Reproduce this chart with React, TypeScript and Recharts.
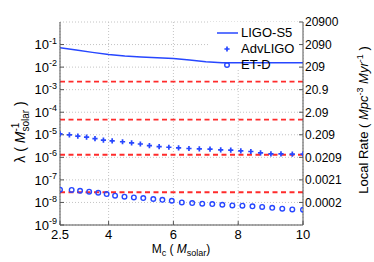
import React from 'react';
import {
  ComposedChart,
  Line,
  Scatter,
  XAxis,
  YAxis,
  CartesianGrid,
  ReferenceLine,
  ReferenceArea,
  Legend,
} from 'recharts';

const FONT = '"Liberation Sans", Arial, Helvetica, sans-serif';
const BLUE = '#2747ff';
const RED = '#ff2b2b';
const AXIS = '#555555';

// ---- data ----
const titleText = 'BHNS, Hopkins & Beacom';
const seriesNames = ['LIGO-S5', 'AdvLIGO', 'ET-D'];

const xTicks = [2.5, 4, 6, 8, 10];
const leftTicks = [1e-1, 1e-2, 1e-3, 1e-4, 1e-5, 1e-6, 1e-7, 1e-8, 1e-9];
const rightTicks = [1, 1e-1, 1e-2, 1e-3, 1e-4, 1e-5, 1e-6, 1e-7, 1e-8];
const rightTickLabels = ['20900', '2090', '209', '20.9', '2.09', '0.209', '0.0209', '0.0021', '0.0002'];

const ligoX = [2.5, 3.0, 3.5, 4.0, 4.5, 5.0, 5.5, 6.0, 6.5, 7.0, 7.5, 8.0, 8.5, 9.0, 9.5, 10];
const ligoS5 = [7.3e-2, 5.8e-2, 4.5e-2, 3.6e-2, 3.1e-2, 2.8e-2, 2.6e-2, 2.4e-2, 2.05e-2, 1.75e-2, 1.57e-2, 1.56e-2, 1.56e-2, 1.55e-2, 1.55e-2, 1.55e-2];

const advX = [2.5, 2.79, 3.05, 3.32, 3.58, 3.84, 4.11, 4.43, 4.71, 4.98, 5.26, 5.56, 5.86, 6.16, 6.48, 6.8, 7.13, 7.46, 7.77, 8.08, 8.39, 8.69, 9.01, 9.32, 9.67, 10.0];
const advLIGO = [1.1e-5, 9.9e-6, 8.7e-6, 7.9e-6, 6.8e-6, 5.8e-6, 5.4e-6, 4.9e-6, 4.4e-6, 3.9e-6, 3.3e-6, 3.0e-6, 2.8e-6, 2.6e-6, 2.46e-6, 2.39e-6, 2.32e-6, 2.16e-6, 2.09e-6, 1.95e-6, 1.81e-6, 1.59e-6, 1.43e-6, 1.43e-6, 1.39e-6, 1.39e-6];

const etX = [2.5, 2.86, 3.12, 3.4, 3.68, 3.94, 4.2, 4.49, 4.78, 5.07, 5.38, 5.66, 5.95, 6.26, 6.58, 6.89, 7.2, 7.51, 7.82, 8.13, 8.44, 8.74, 9.05, 9.36, 9.67, 10.0];
const etD = [3.7e-8, 3.6e-8, 3.3e-8, 3.0e-8, 2.7e-8, 2.36e-8, 2.0e-8, 1.8e-8, 1.67e-8, 1.57e-8, 1.42e-8, 1.31e-8, 1.19e-8, 1.0e-8, 9.4e-9, 8.8e-9, 8.5e-9, 7.9e-9, 7.4e-9, 7.2e-9, 6.7e-9, 6.3e-9, 5.8e-9, 5.3e-9, 4.9e-9, 4.8e-9];

const redLevels = [2.28e-3, 4.73e-5, 1.3e-6, 2.83e-8];

const ligoData = ligoX.map((x, i) => ({ x, y: ligoS5[i] }));
const advData = advX.map((x, i) => ({ x, y: advLIGO[i] }));
const etData = etX.map((x, i) => ({ x, y: etD[i] }));

// ---- shapes ----
const PlusShape = (props: any) => {
  const { cx, cy } = props;
  if (cx == null || cy == null) return null;
  const s = 2.6;
  return (
    <path
      d={`M${cx - s},${cy}H${cx + s}M${cx},${cy - s}V${cy + s}`}
      stroke={BLUE}
      strokeWidth={1.7}
      fill="none"
    />
  );
};

const CircleShape = (props: any) => {
  const { cx, cy } = props;
  if (cx == null || cy == null) return null;
  return <circle cx={cx} cy={cy} r={2.3} stroke={BLUE} strokeWidth={1.4} fill="none" />;
};

const LeftTick = (props: any) => {
  const { x, y, payload } = props;
  const exp = Math.round(Math.log10(payload.value));
  return (
    <text x={x} y={y} textAnchor="end" fontFamily={FONT} fontSize={13} fill="#000">
      <tspan dy="0.36em">10</tspan>
      <tspan dy="-0.62em" fontSize={9}>{String(exp)}</tspan>
    </text>
  );
};

const RightTick = (props: any) => {
  const { x, y, payload } = props;
  const idx = Math.round(-Math.log10(payload.value));
  return (
    <text x={x} y={y} textAnchor="start" fontFamily={FONT} fontSize={12} fill="#000" dy="0.36em">
      {rightTickLabels[idx]}
    </text>
  );
};

const BottomTick = (props: any) => {
  const { x, y, payload } = props;
  return (
    <text x={x} y={y} textAnchor="middle" fontFamily={FONT} fontSize={13} fill="#000" dy="0.72em">
      {String(payload.value)}
    </text>
  );
};

const LegendBox = () => (
  <div style={{ fontFamily: FONT, fontSize: 13, color: '#000' }}>
    {seriesNames.map((name, i) => (
      <div key={name} style={{ display: 'flex', alignItems: 'center', height: 16 }}>
        <svg width={24} height={16} style={{ display: 'block' }}>
          {i === 0 && <line x1={1} y1={8} x2={22} y2={8} stroke={BLUE} strokeWidth={1.5} />}
          {i === 1 && <PlusShape cx={11} cy={8} />}
          {i === 2 && <CircleShape cx={11} cy={8} />}
        </svg>
        <span style={{ marginLeft: 1, lineHeight: '16px' }}>{name}</span>
      </div>
    ))}
  </div>
);

const TitleLabel = () => (
  <text x={182} y={15} textAnchor="middle" fontFamily={FONT} fontSize={14} fill="#000">
    {titleText}
  </text>
);

const XLabel = () => (
  <text x={181} y={253} textAnchor="middle" fontFamily={FONT} fontSize={12} fill="#000">
    <tspan>M</tspan>
    <tspan fontSize={9} dy={3}>c</tspan>
    <tspan dy={-3}>{' ( '}</tspan>
    <tspan fontStyle="italic">M</tspan>
    <tspan fontSize={9} dy={3}>solar</tspan>
    <tspan dy={-3}>)</tspan>
  </text>
);

const LeftLabel = () => (
  <text
    x={25}
    y={132}
    textAnchor="middle"
    transform="rotate(-90, 25, 132)"
    fontFamily={FONT}
    fontSize={14}
    fill="#000"
  >
    <tspan>{'λ ( '}</tspan>
    <tspan fontStyle="italic">M</tspan>
    <tspan fontSize={10} dy={-6}>-1</tspan>
    <tspan fontSize={10} dx={-9} dy={10}>solar</tspan>
    <tspan dy={-4}>{' )'}</tspan>
  </text>
);

const RightLabel = () => (
  <text
    x={368}
    y={120}
    textAnchor="middle"
    transform="rotate(-90, 368, 120)"
    fontFamily={FONT}
    fontSize={13}
    fill="#000"
  >
    <tspan>{'Local Rate ( '}</tspan>
    <tspan fontStyle="italic">Mpc</tspan>
    <tspan fontSize={9} dy={-5}>-3</tspan>
    <tspan dy={5}>{' '}</tspan>
    <tspan fontStyle="italic">Myr</tspan>
    <tspan fontSize={9} dy={-5}>-1</tspan>
    <tspan dy={5}>{' )'}</tspan>
  </text>
);

export default function App() {
  return (
    <div style={{ position: 'absolute', left: 0, top: 0, width: 374, height: 262, background: '#fff' }}>
      <ComposedChart width={374} height={262} margin={{ top: 22, right: 0, bottom: 0, left: 0 }}>
        <CartesianGrid stroke="#c4c4c4" strokeDasharray="1 2" />
        <ReferenceArea
          x1={7.1}
          x2={10}
          y1={7.5e-3}
          y2={1}
          fill="#ffffff"
          fillOpacity={1}
          stroke="none"
          ifOverflow="hidden"
        />
        <XAxis
          dataKey="x"
          type="number"
          domain={[2.5, 10]}
          ticks={xTicks}
          allowDataOverflow
          height={37}
          stroke={AXIS}
          tickSize={-4}
          tickMargin={9}
          tick={<BottomTick />}
          interval={0}
          label={() => <XLabel />}
        />
        <XAxis
          xAxisId="top"
          orientation="top"
          dataKey="x"
          type="number"
          domain={[2.5, 10]}
          ticks={xTicks}
          allowDataOverflow
          height={0}
          stroke={AXIS}
          tickSize={-4}
          tick={false}
          label={() => <TitleLabel />}
        />
        <YAxis
          dataKey="y"
          type="number"
          scale="log"
          domain={[1e-9, 1]}
          ticks={leftTicks}
          allowDataOverflow
          width={60}
          stroke={AXIS}
          tickSize={-4}
          tickMargin={7}
          interval={0}
          tick={<LeftTick />}
          label={() => <LeftLabel />}
        />
        <YAxis
          yAxisId="right"
          orientation="right"
          type="number"
          scale="log"
          domain={[1e-9, 1]}
          ticks={rightTicks}
          allowDataOverflow
          width={71}
          stroke={AXIS}
          tickSize={-4}
          tickMargin={6}
          interval={0}
          tick={<RightTick />}
          label={() => <RightLabel />}
        />
        {redLevels.map((v) => (
          <ReferenceLine
            key={v}
            y={v}
            stroke={RED}
            strokeWidth={1.8}
            strokeDasharray="5 3.5"
          />
        ))}
        <Line
          data={ligoData}
          dataKey="y"
          name={seriesNames[0]}
          stroke={BLUE}
          strokeWidth={1.5}
          dot={false}
          type="linear"
          isAnimationActive={false}
        />
        <Scatter
          data={advData}
          dataKey="y"
          name={seriesNames[1]}
          shape={<PlusShape />}
          isAnimationActive={false}
        />
        <Scatter
          data={etData}
          dataKey="y"
          name={seriesNames[2]}
          shape={<CircleShape />}
          isAnimationActive={false}
        />
        <Legend
          layout="vertical"
          align="center"
          verticalAlign="middle"
          content={() => <LegendBox />}
          wrapperStyle={{ position: 'absolute', left: 216, top: 25, width: 90 }}
        />
      </ComposedChart>
    </div>
  );
}
